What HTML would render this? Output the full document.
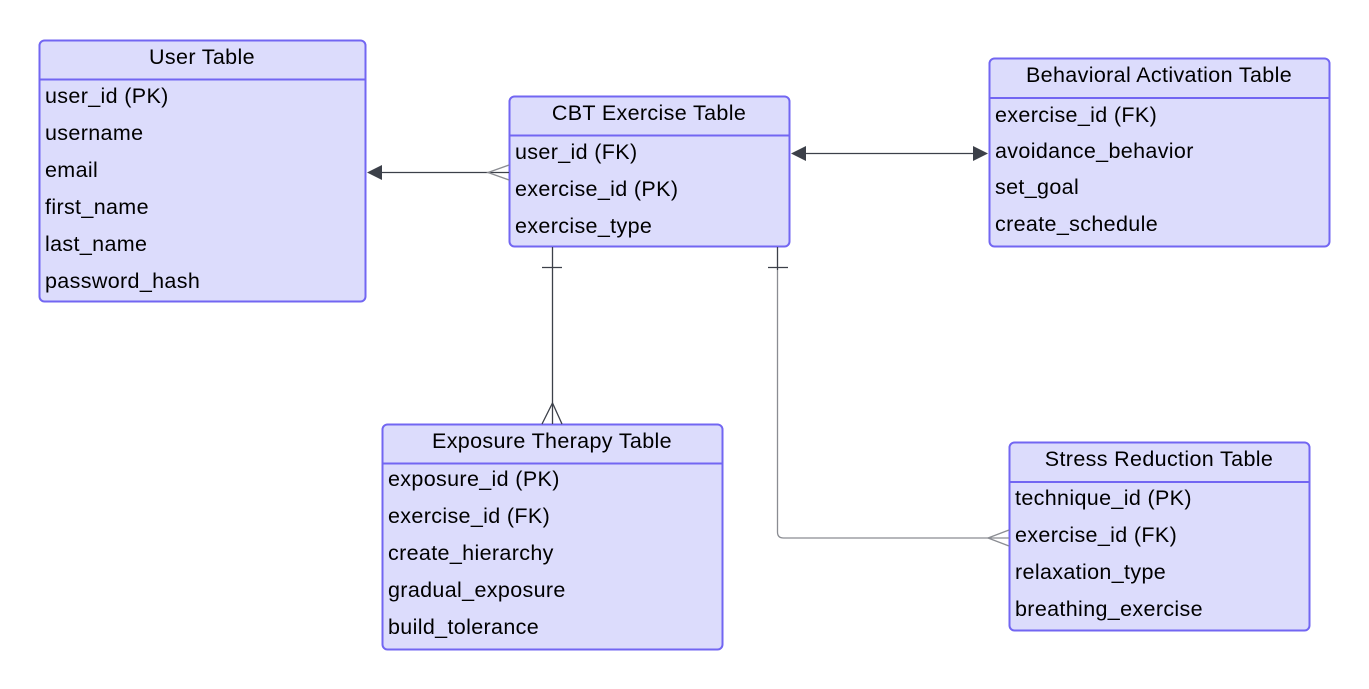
<!DOCTYPE html>
<html><head><meta charset="utf-8"><style>
html,body{margin:0;padding:0;background:#fff;}
svg{display:block;}
text{font-family:"Liberation Sans",sans-serif;font-size:21.5px;letter-spacing:0.35px;fill:#000;}
.box{fill:#dcdcfc;stroke:#7266f2;stroke-width:2;}
.hl{stroke:#7266f2;stroke-width:2;}
.ln{stroke:#3c4049;stroke-width:1.3;fill:none;}
.lg{stroke:#8a8c92;stroke-width:1.3;fill:none;}
.ar{fill:#3c4049;}
</style></head><body>
<svg width="1369" height="689" viewBox="0 0 1369 689">
<!-- User Table -->
<rect class="box" x="39.5" y="40.5" width="326" height="261" rx="5"/>
<line class="hl" x1="39.5" y1="79.5" x2="365.5" y2="79.5"/>
<text x="202" y="64" text-anchor="middle">User Table</text>
<text x="45" y="103">user_id (PK)</text>
<text x="45" y="140">username</text>
<text x="45" y="177">email</text>
<text x="45" y="214">first_name</text>
<text x="45" y="251">last_name</text>
<text x="45" y="288">password_hash</text>

<!-- CBT -->
<rect class="box" x="509.5" y="96.5" width="280" height="150" rx="5"/>
<line class="hl" x1="509.5" y1="135.5" x2="789.5" y2="135.5"/>
<text x="649" y="120" text-anchor="middle">CBT Exercise Table</text>
<text x="515" y="159">user_id (FK)</text>
<text x="515" y="196">exercise_id (PK)</text>
<text x="515" y="233">exercise_type</text>

<!-- Behavioral -->
<rect class="box" x="989.5" y="58.5" width="340" height="188" rx="5"/>
<line class="hl" x1="989.5" y1="98" x2="1329.5" y2="98"/>
<text x="1159" y="82" text-anchor="middle">Behavioral Activation Table</text>
<text x="995" y="122">exercise_id (FK)</text>
<text x="995" y="158">avoidance_behavior</text>
<text x="995" y="194">set_goal</text>
<text x="995" y="231">create_schedule</text>

<!-- Exposure -->
<rect class="box" x="382.5" y="424.5" width="340" height="225" rx="5"/>
<line class="hl" x1="382.5" y1="463.5" x2="722.5" y2="463.5"/>
<text x="552" y="448" text-anchor="middle">Exposure Therapy Table</text>
<text x="388" y="486">exposure_id (PK)</text>
<text x="388" y="523">exercise_id (FK)</text>
<text x="388" y="560">create_hierarchy</text>
<text x="388" y="597">gradual_exposure</text>
<text x="388" y="634">build_tolerance</text>

<!-- Stress -->
<rect class="box" x="1009.5" y="442.5" width="300" height="188" rx="5"/>
<line class="hl" x1="1009.5" y1="482" x2="1309.5" y2="482"/>
<text x="1159" y="466" text-anchor="middle">Stress Reduction Table</text>
<text x="1015" y="505">technique_id (PK)</text>
<text x="1015" y="542">exercise_id (FK)</text>
<text x="1015" y="579">relaxation_type</text>
<text x="1015" y="616">breathing_exercise</text>

<!-- User - CBT -->
<line class="ln" x1="380" y1="172.5" x2="509" y2="172.5"/>
<polygon class="ar" points="367,172.5 382,165 382,180"/>
<polyline class="lg" points="509,165 488,172.5 509,180"/>

<!-- CBT - Behavioral -->
<line class="ln" x1="802" y1="153.5" x2="976" y2="153.5"/>
<polygon class="ar" points="791,153.5 806,146 806,161"/>
<polygon class="ar" points="988,153.5 973,146 973,161"/>

<!-- CBT - Exposure -->
<line class="ln" x1="552.5" y1="247" x2="552.5" y2="424"/>
<line class="ln" x1="542" y1="267.5" x2="562" y2="267.5"/>
<polyline class="ln" points="542,424 552.5,403 562,424"/>

<!-- CBT - Stress -->
<line class="ln" x1="777.5" y1="247" x2="777.5" y2="270"/>
<line class="ln" x1="768" y1="267.5" x2="788" y2="267.5"/>
<path class="lg" d="M777.5 270 V532 Q777.5 538 783.5 538 H1009"/>
<polyline class="lg" points="1009,530 988,538 1009,546"/>
</svg>
</body></html>
